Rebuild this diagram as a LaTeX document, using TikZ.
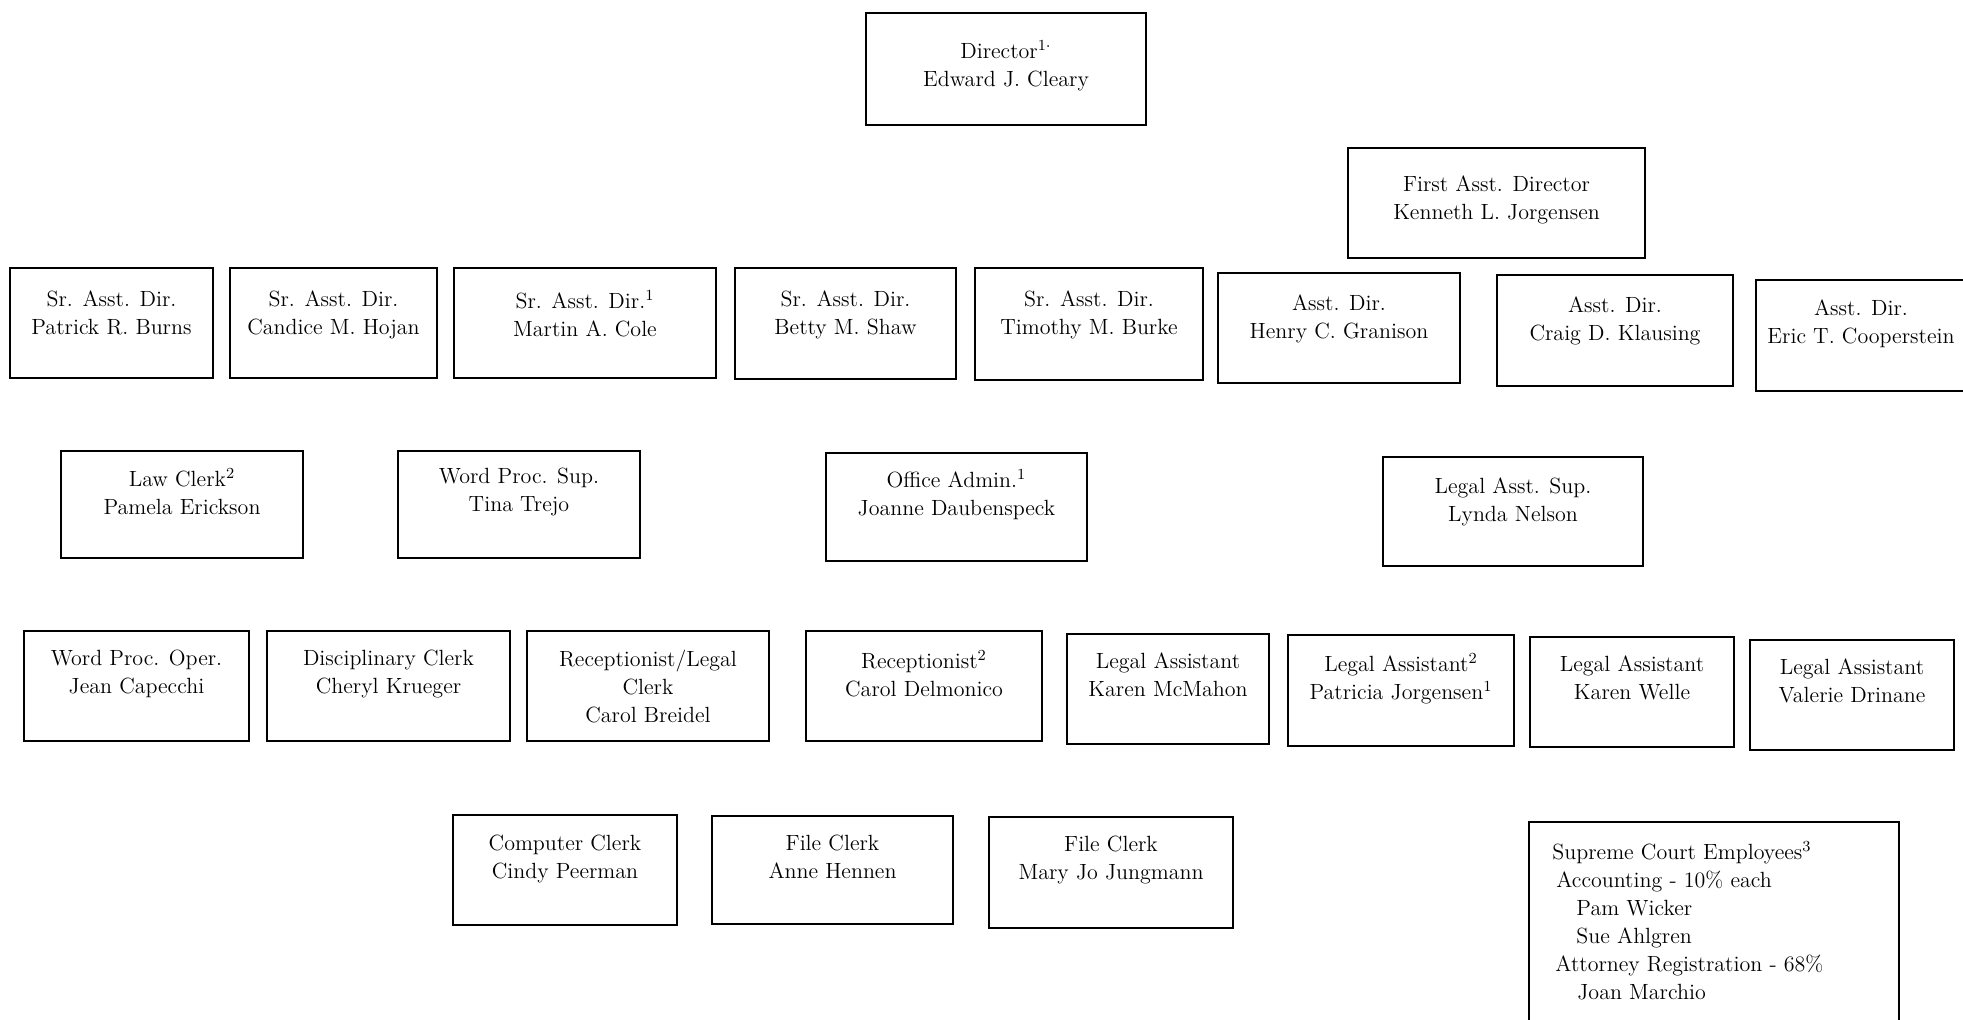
\documentclass[tikz,border=0pt]{standalone}
\newcommand\orgbox[7]{%
  \draw[boxline] (#2,#3) rectangle (#4,#5);
  \node[boxtext] (#1) at ({(#2+#4)/2},{#6-9}) {#7};}
\begin{document}
\begin{tikzpicture}[x=0.5pt,y=-0.5pt,
  boxline/.style={line width=1pt},
  boxtext/.style={anchor=north, align=center, inner sep=0pt, font=\fontsize{11}{14}\selectfont}]
\useasboundingbox (0,0) rectangle (1963,1019);
% top
\orgbox{dir}{866}{13}{1146}{125}{49}{Director\textsuperscript{1$\cdot$}\\Edward J. Cleary}
\orgbox{first}{1348}{148}{1645}{258}{184}{First Asst. Director\\Kenneth L. Jorgensen}
% row 2
\orgbox{s1}{10}{268}{213}{378}{299}{Sr. Asst. Dir.\\Patrick R. Burns}
\orgbox{s2}{230}{268}{437}{378}{299}{Sr. Asst. Dir.\\Candice M. Hojan}
\orgbox{s3}{454}{268}{716}{378}{299}{Sr. Asst. Dir.\textsuperscript{1}\\Martin A. Cole}
\orgbox{s4}{735}{268}{956}{379}{299}{Sr. Asst. Dir.\\Betty M. Shaw}
\orgbox{s5}{975}{268}{1203}{380}{299}{Sr. Asst. Dir.\\Timothy M. Burke}
\orgbox{a1}{1218}{273}{1460}{383}{303}{Asst. Dir.\\Henry C. Granison}
\orgbox{a2}{1497}{275}{1733}{386}{305}{Asst. Dir.\\Craig D. Klausing}
\orgbox{a3}{1756}{280}{1966}{391}{308}{Asst. Dir.\\Eric T. Cooperstein}
% row 3
\orgbox{lc}{61}{451}{303}{558}{477}{Law Clerk\textsuperscript{2}\\Pamela Erickson}
\orgbox{wps}{398}{451}{640}{558}{477}{Word Proc. Sup.\\Tina Trejo}
\orgbox{oa}{826}{453}{1087}{561}{478}{Office Admin.\textsuperscript{1}\\Joanne Daubenspeck}
\orgbox{las}{1383}{457}{1643}{566}{486}{Legal Asst. Sup.\\Lynda Nelson}
% row 4
\orgbox{wpo}{24}{631}{249}{741}{659}{Word Proc. Oper.\\Jean Capecchi}
\orgbox{dc}{267}{631}{510}{741}{659}{Disciplinary Clerk\\Cheryl Krueger}
\orgbox{rlc}{527}{631}{769}{741}{659}{Receptionist/Legal\\Clerk\\Carol Breidel}
\orgbox{rec}{806}{631}{1042}{741}{659}{Receptionist\textsuperscript{2}\\Carol Delmonico}
\orgbox{la1}{1067}{634}{1269}{744}{661}{Legal Assistant\\Karen McMahon}
\orgbox{la2}{1288}{635}{1514}{746}{662}{Legal Assistant\textsuperscript{2}\\Patricia Jorgensen\textsuperscript{1}}
\orgbox{la3}{1530}{637}{1734}{747}{664}{Legal Assistant\\Karen Welle}
\orgbox{la4}{1750}{640}{1954}{750}{667}{Legal Assistant\\Valerie Drinane}
% row 5
\orgbox{cc}{453}{815}{677}{925}{844}{Computer Clerk\\Cindy Peerman}
\orgbox{fc1}{712}{816}{953}{924}{844}{File Clerk\\Anne Hennen}
\orgbox{fc2}{989}{817}{1233}{928}{845}{File Clerk\\Mary Jo Jungmann}
% supreme court
\draw[boxline] (1529,822) rectangle (1899,1030);
\node[boxtext, anchor=north west, align=left] (sce) at (1552,841)
  {Supreme Court Employees\textsuperscript{3}\\
   \hspace*{2pt}Accounting - 10\% each\\
   \hspace*{12pt}Pam Wicker\\
   \hspace*{12pt}Sue Ahlgren\\
   \hspace*{1.5pt}Attorney Registration - 68\%\\
   \hspace*{12.5pt}Joan Marchio};
\end{tikzpicture}
\end{document}
